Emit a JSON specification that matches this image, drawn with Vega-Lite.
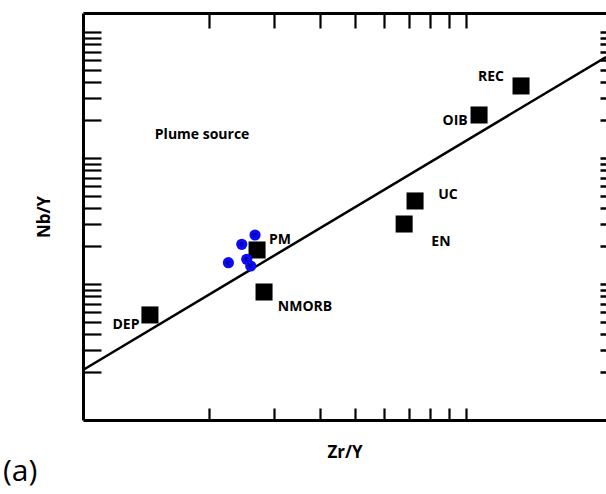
{
  "$schema": "https://vega.github.io/schema/vega-lite/v6.json",
  "width": 523,
  "height": 407,
  "autosize": {"type": "none"},
  "padding": {"left": 83, "top": 13, "right": 0, "bottom": 74},
  "background": "white",
  "config": {"view": {"stroke": null}, "font": "Lato"},
  "title": {"text": "(a)", "orient": "bottom", "anchor": "start", "frame": "group", "font": "Open Sans", "fontSize": 30, "fontWeight": "normal", "color": "black", "dx": -80, "offset": -3},
  "datasets": {
    "refs": [
      {"name": "REC", "zr_y": 14.11, "nb_y": 3.73},
      {"name": "OIB", "zr_y": 10.85, "nb_y": 2.194},
      {"name": "UC", "zr_y": 7.27, "nb_y": 0.456},
      {"name": "EN", "zr_y": 6.79, "nb_y": 0.2993},
      {"name": "PM", "zr_y": 2.705, "nb_y": 0.1862},
      {"name": "NMORB", "zr_y": 2.826, "nb_y": 0.0864},
      {"name": "DEP", "zr_y": 1.384, "nb_y": 0.0568}
    ],
    "samples": [
      {"zr_y": 2.671, "nb_y": 0.2448},
      {"zr_y": 2.458, "nb_y": 0.2066},
      {"zr_y": 2.261, "nb_y": 0.1476},
      {"zr_y": 2.536, "nb_y": 0.1571},
      {"zr_y": 2.6, "nb_y": 0.139}
    ],
    "trend": [
      {"zr_y": 0.9104, "nb_y": 0.02077},
      {"zr_y": 24.01, "nb_y": 6.334}
    ],
    "labels": [
      {"label": "REC", "zr_y": 11.69, "nb_y": 4.39},
      {"label": "OIB", "zr_y": 9.34, "nb_y": 1.967},
      {"label": "Plume source", "zr_y": 1.918, "nb_y": 1.522},
      {"label": "UC", "zr_y": 8.93, "nb_y": 0.5084},
      {"label": "EN", "zr_y": 8.55, "nb_y": 0.2154},
      {"label": "PM", "zr_y": 3.124, "nb_y": 0.2235},
      {"label": "NMORB", "zr_y": 3.652, "nb_y": 0.0657},
      {"label": "DEP", "zr_y": 1.191, "nb_y": 0.0473}
    ]
  },
  "resolve": {"axis": {"x": "independent", "y": "independent"}},
  "layer": [
    {
      "data": {"name": "trend"},
      "mark": {"type": "line", "color": "black", "strokeWidth": 2.5},
      "encoding": {
        "x": {"field": "zr_y", "type": "quantitative",
          "scale": {"type": "log", "domain": [0.9104, 24.01], "nice": false, "zero": false},
          "axis": {"orient": "bottom", "values": [2, 3, 4, 5, 6, 7, 8, 9, 10], "labels": false, "grid": false,
            "domainColor": "black", "domainWidth": 3, "tickColor": "black", "tickWidth": 2.2, "tickSize": -12,
            "title": "Zr/Y", "titleFontSize": 17, "titleFontWeight": "bold", "titleFont": "Open Sans", "titleColor": "black", "titlePadding": 23}},
        "y": {"field": "nb_y", "type": "quantitative",
          "scale": {"type": "log", "domain": [0.00833, 14.15], "nice": false, "zero": false},
          "axis": {"orient": "left", "values": [0.02, 0.03, 0.04, 0.05, 0.06, 0.07, 0.08, 0.09, 0.1, 0.2, 0.3, 0.4, 0.5, 0.6, 0.7, 0.8, 0.9, 1, 2, 3, 4, 5, 6, 7, 8, 9, 10],
            "labels": false, "grid": false, "domainColor": "black", "domainWidth": 3, "tickColor": "black", "tickWidth": 2.2, "tickSize": -18,
            "title": "Nb/Y", "titleFontSize": 17, "titleFontWeight": "bold", "titleFont": "Open Sans", "titleColor": "black", "titlePadding": 28}}
      }
    },
    {
      "data": {"name": "refs"},
      "mark": {"type": "square", "color": "black", "filled": true, "opacity": 1, "size": 290},
      "encoding": {
        "x": {"field": "zr_y", "type": "quantitative",
          "axis": {"orient": "top", "values": [2, 3, 4, 5, 6, 7, 8, 9, 10], "labels": false, "grid": false, "title": null,
            "domainColor": "black", "domainWidth": 3, "tickColor": "black", "tickWidth": 2.2, "tickSize": -15}},
        "y": {"field": "nb_y", "type": "quantitative",
          "axis": {"orient": "right", "values": [0.02, 0.03, 0.04, 0.05, 0.06, 0.07, 0.08, 0.09, 0.1, 0.2, 0.3, 0.4, 0.5, 0.6, 0.7, 0.8, 0.9, 1, 2, 3, 4, 5, 6, 7, 8, 9, 10],
            "labels": false, "grid": false, "title": null, "domain": false, "tickColor": "black", "tickWidth": 2.5, "tickSize": -6}}
      }
    },
    {
      "data": {"name": "samples"},
      "mark": {"type": "circle", "color": "#0b0bf5", "opacity": 1, "size": 125},
      "encoding": {
        "x": {"field": "zr_y", "type": "quantitative", "axis": null},
        "y": {"field": "nb_y", "type": "quantitative", "axis": null}
      }
    },
    {
      "data": {"name": "samples"},
      "mark": {"type": "text", "text": "e", "color": "#000066", "fontSize": 8, "align": "center", "baseline": "middle"},
      "encoding": {
        "x": {"field": "zr_y", "type": "quantitative", "axis": null},
        "y": {"field": "nb_y", "type": "quantitative", "axis": null}
      }
    },
    {
      "data": {"name": "labels"},
      "mark": {"type": "text", "color": "black", "fontSize": 14, "fontWeight": "bold", "font": "Open Sans", "align": "center", "baseline": "middle"},
      "encoding": {
        "x": {"field": "zr_y", "type": "quantitative", "axis": null},
        "y": {"field": "nb_y", "type": "quantitative", "axis": null},
        "text": {"field": "label"}
      }
    }
  ]
}
